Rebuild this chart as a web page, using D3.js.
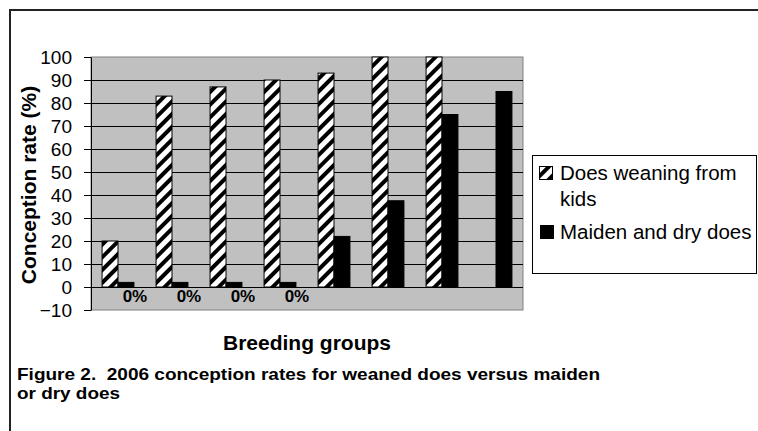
<!DOCTYPE html>
<html>
<head>
<meta charset="utf-8">
<script src="https://cdn.jsdelivr.net/npm/d3@7"></script>
<style>
    body { margin: 0; background: #fff; }
    svg text { font-family: "Liberation Sans", Arial, sans-serif; fill: #000; }
</style>
</head>
<body>
<svg id="chart" width="758" height="431"></svg>
<script>

// Breeding groups (no labels are printed under the bars)
const groups = ["1", "2", "3", "4", "5", "6", "7", "8"];
const seriesNames = ["Does weaning from kids", "Maiden and dry does"];

// Conception rate (%) per group
const weanedDoes = [20, 83, 87, 90, 93, 100, 100, null];
const maidenDryDoes = [2, 2, 2, 2, 22, 37.5, 75, 85];
const maidenLabels = ["0%", "0%", "0%", "0%", "", "", "", ""];

const yTicks = [-10, 0, 10, 20, 30, 40, 50, 60, 70, 80, 90, 100];
const gridValues = [0, 10, 20, 30, 40, 50, 60, 70, 80, 90];

const yTitle = "Conception rate (%)";
const xTitle = "Breeding groups";
const captionLines = [
    "Figure 2.  2006 conception rates for weaned does versus maiden",
    "or dry does"
];

/**
 * Draws the conception rate bar chart with legend and caption.
 */
class ConceptionChart {

    constructor() {
        this.svg = d3.select("#chart");

        this.plot = { left: 91, right: 523, top: 57, bottom: 310 };

        this.xScale = d3.scaleBand()
            .domain(groups)
            .range([this.plot.left, this.plot.right])
            .paddingInner(0.41)
            .paddingOuter(0.205);

        this.xSub = d3.scaleBand()
            .domain(seriesNames)
            .range([0, this.xScale.bandwidth()]);

        this.yScale = d3.scaleLinear()
            .domain([-10, 100])
            .range([this.plot.bottom, this.plot.top]);

        this.addHatch();
        this.drawFrame();
        this.drawPlotArea();
        this.drawBars();
        this.drawAxis();
        this.drawLegend();
        this.drawTitles();
    }

    /**
     * Diagonal "/" stripes used for the weaned does series.
     */
    addHatch() {
        let pattern = this.svg.append("defs")
            .append("pattern")
            .attr("id", "hatch")
            .attr("patternUnits", "userSpaceOnUse")
            .attr("width", 9)
            .attr("height", 9)
            .attr("patternTransform", "rotate(45)");

        pattern.append("rect")
            .attr("width", 9)
            .attr("height", 9)
            .attr("fill", "#fff");

        pattern.append("rect")
            .attr("width", 4)
            .attr("height", 9)
            .attr("fill", "#000");
    }

    /**
     * Outer border of the figure (top and left edges only are in view).
     */
    drawFrame() {
        this.svg.append("path")
            .attr("d", "M10,431 L10,10 L758,10")
            .attr("fill", "none")
            .attr("stroke", "#222")
            .attr("stroke-width", 2);
    }

    drawPlotArea() {
        let p = this.plot;

        this.svg.append("rect")
            .attr("x", p.left)
            .attr("y", p.top)
            .attr("width", p.right - p.left)
            .attr("height", p.bottom - p.top)
            .attr("fill", "#c0c0c0")
            .attr("stroke", "#808080");

        this.svg.append("g")
            .selectAll("line")
            .data(gridValues)
            .join("line")
            .attr("x1", p.left)
            .attr("x2", p.right)
            .attr("y1", d => Math.round(this.yScale(d)) + 0.5)
            .attr("y2", d => Math.round(this.yScale(d)) + 0.5)
            .attr("stroke", "#000");
    }

    drawBars() {
        let rows = groups.map((g, i) => ({
            group: g,
            values: [
                { series: seriesNames[0], value: weanedDoes[i] },
                { series: seriesNames[1], value: maidenDryDoes[i], label: maidenLabels[i] }
            ]
        }));

        let bars = this.svg.append("g")
            .selectAll("g")
            .data(rows)
            .join("g")
            .attr("transform", d => `translate(${this.xScale(d.group)},0)`);

        bars.selectAll("rect")
            .data(d => d.values.filter(v => v.value != null))
            .join("rect")
            .attr("x", d => this.xSub(d.series))
            .attr("y", d => this.yScale(d.value))
            .attr("width", this.xSub.bandwidth())
            .attr("height", d => this.yScale(0) - this.yScale(d.value))
            .attr("fill", d => d.series === seriesNames[0] ? "url(#hatch)" : "#000")
            .attr("stroke", "#000")
            .attr("stroke-width", 1);

        // "0%" data labels sit below the axis, a little right of the bar
        bars.selectAll("text")
            .data(d => d.values.filter(v => v.label))
            .join("text")
            .attr("x", d => this.xSub(d.series) + this.xSub.bandwidth() / 2 + 9)
            .attr("y", this.yScale(0) + 15)
            .attr("text-anchor", "middle")
            .attr("font-size", 17)
            .attr("font-weight", "bold")
            .text(d => d.label);
    }

    drawAxis() {
        let axis = this.svg.append("g")
            .attr("transform", `translate(${this.plot.left},0)`)
            .call(d3.axisLeft(this.yScale)
                .tickValues(yTicks)
                .tickSize(7)
                .tickSizeOuter(0)
                .tickPadding(12));

        axis.select(".domain").attr("stroke", "#000");
        axis.selectAll(".tick line").attr("stroke", "#000");
        axis.selectAll(".tick text")
            .attr("font-size", 19)
            .attr("font-family", "'Liberation Sans', Arial, sans-serif")
            .attr("fill", "#000");
    }

    drawLegend() {
        let legend = this.svg.append("g");

        legend.append("rect")
            .attr("x", 532.5)
            .attr("y", 155.5)
            .attr("width", 224)
            .attr("height", 118)
            .attr("fill", "#fff")
            .attr("stroke", "#000");

        legend.append("rect")
            .attr("x", 539.5)
            .attr("y", 166.5)
            .attr("width", 13)
            .attr("height", 13)
            .attr("fill", "url(#hatch)")
            .attr("stroke", "#000");

        let t = legend.append("text")
            .attr("x", 560)
            .attr("y", 180)
            .attr("font-size", 20.5);
        t.append("tspan").text("Does weaning from");
        t.append("tspan").attr("x", 560).attr("dy", 26).text("kids");

        legend.append("rect")
            .attr("x", 540)
            .attr("y", 225)
            .attr("width", 14)
            .attr("height", 14)
            .attr("fill", "#000");

        legend.append("text")
            .attr("x", 560)
            .attr("y", 239)
            .attr("font-size", 20.5)
            .text(seriesNames[1]);
    }

    drawTitles() {
        this.svg.append("text")
            .attr("transform", "translate(36,185) rotate(-90)")
            .attr("text-anchor", "middle")
            .attr("font-size", 21)
            .attr("font-weight", "bold")
            .text(yTitle);

        this.svg.append("text")
            .attr("x", (this.plot.left + this.plot.right) / 2)
            .attr("y", 350)
            .attr("text-anchor", "middle")
            .attr("font-size", 21)
            .attr("font-weight", "bold")
            .text(xTitle);

        // keep the double space after "Figure 2."
        this.svg.append("g")
            .selectAll("text")
            .data(captionLines)
            .join("text")
            .attr("x", 17)
            .attr("y", (d, i) => 380 + i * 19)
            .attr("font-size", 17)
            .attr("font-weight", "bold")
            .style("white-space", "pre")
            .attr("textLength", (d, i) => i === 0 ? 583 : 103)
            .attr("lengthAdjust", "spacingAndGlyphs")
            .text(d => d);
    }
}

new ConceptionChart();

</script>
</body>
</html>
